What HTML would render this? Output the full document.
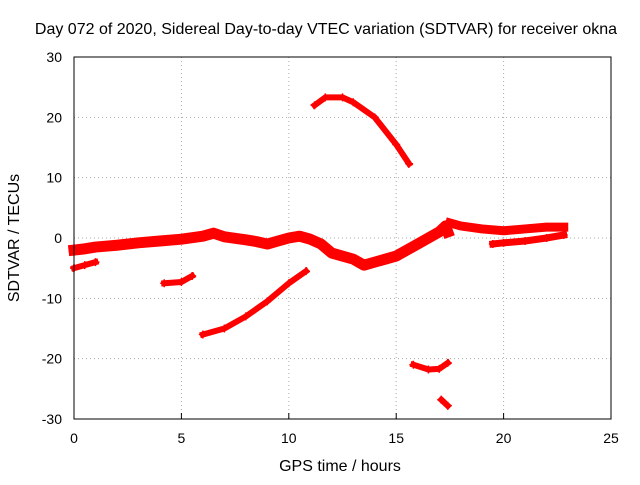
<!DOCTYPE html>
<html><head><meta charset="utf-8"><style>
body{margin:0;background:#fff;}
svg text{font-family:"Liberation Sans",sans-serif;font-size:14px;fill:#000;}
svg text.big{font-size:16px;}
</style></head><body>
<svg id="chart" width="640" height="480">
<text class="big" x="326" y="34" text-anchor="middle">Day 072 of 2020, Sidereal Day-to-day VTEC variation (SDTVAR) for receiver okna</text>
<text class="big" x="340" y="471" text-anchor="middle">GPS time / hours</text>
<text class="big" transform="translate(19,238) rotate(-90)" text-anchor="middle">SDTVAR / TECUs</text>
<g id="grid"></g><g id="marks"></g>
<rect x="74" y="57" width="537" height="362" fill="none" stroke="#000"/>
</svg>
<script>
const xTicks=[0,5,10,15,20,25];
const yTicks=[-30,-20,-10,0,10,20,30];
const segMain=[[0,-2],[0.5,-1.8],[1,-1.5],[2,-1.2],[3,-0.8],[4,-0.5],[5,-0.2],[6,0.3],[6.5,0.8],[7,0.2],[8,-0.3],[8.5,-0.6],[9,-1],[9.5,-0.5],[10,0],[10.5,0.3],[11,-0.2],[11.5,-1],[12,-2.5],[13,-3.5],[13.5,-4.5],[14,-4],[15,-3],[16,-1],[17,1],[17.3,2],[17.4,1]];
const segMain2=[[17.5,2.5],[18,2],[19,1.5],[20,1.2],[21,1.5],[22,1.8],[22.8,1.8]];
const segBranch=[[19.5,-1],[20,-0.8],[21,-0.5],[22,0],[22.8,0.5]];
const segA=[[0,-5],[0.5,-4.5],[1,-4]];
const segB=[[4.2,-7.5],[5,-7.3],[5.5,-6.3]];
const segC=[[6,-16],[7,-15],[8,-13],[9,-10.5],[10,-7.5],[10.8,-5.5]];
const segD=[[11.2,22],[11.7,23.3],[12.5,23.3],[13,22.5],[14,20],[15,15.5],[15.6,12.3]];
const segE=[[15.8,-21],[16.5,-21.8],[17,-21.7],[17.4,-20.7]];
const segF=[[17.1,-26.8],[17.4,-27.8]];
const series=[segMain,segMain2,segBranch,segA,segB,segC,segD,segE,segF];
const widths=[11,9,7,6,6,6,6,6,6];
const X=h=>74+h*(537/25), Y=v=>238-v*(362/60);
const NS='http://www.w3.org/2000/svg';
const grid=document.getElementById('grid'), marks=document.getElementById('marks');
function mk(t,a,p){const e=document.createElementNS(NS,t);for(const k in a)e.setAttribute(k,a[k]);p.appendChild(e);return e;}
xTicks.forEach(t=>{
 if(t>0&&t<25){const l=mk('line',{x1:X(t),x2:X(t),y1:57,y2:419,stroke:'#aaa','stroke-dasharray':'1,3'},grid);
 
 }
 const tk=mk('line',{x1:X(t),x2:X(t),y1:419,y2:413,stroke:'#000'},grid);
 
 
 const tx=mk('text',{x:X(t),y:443,'text-anchor':'middle'},grid);tx.textContent=t;
 
 
});
yTicks.forEach(t=>{
 if(t>-30&&t<30){const l=mk('line',{x1:74,x2:611,y1:Y(t),y2:Y(t),stroke:'#aaa','stroke-dasharray':'1,3'},grid);
 
 }
 const tx=mk('text',{x:62,y:Y(t)+5,'text-anchor':'end'},grid);tx.textContent=t;
 
 
});
series.forEach((s,i)=>{
 const pl=mk('polyline',{points:s.map(p=>X(p[0])+','+Y(p[1])).join(' '),fill:'none',stroke:'#f00','stroke-width':widths[i],'stroke-linejoin':'round','stroke-linecap':'square'},marks);
 
 
 s.forEach(p=>{const x=X(p[0]),y=Y(p[1]);
  const c=mk('path',{d:`M${x-4},${y}h8M${x},${y-4}v8`,stroke:'#f00','stroke-width':1.5},marks);
  
  });
});
</script>
</body></html>
